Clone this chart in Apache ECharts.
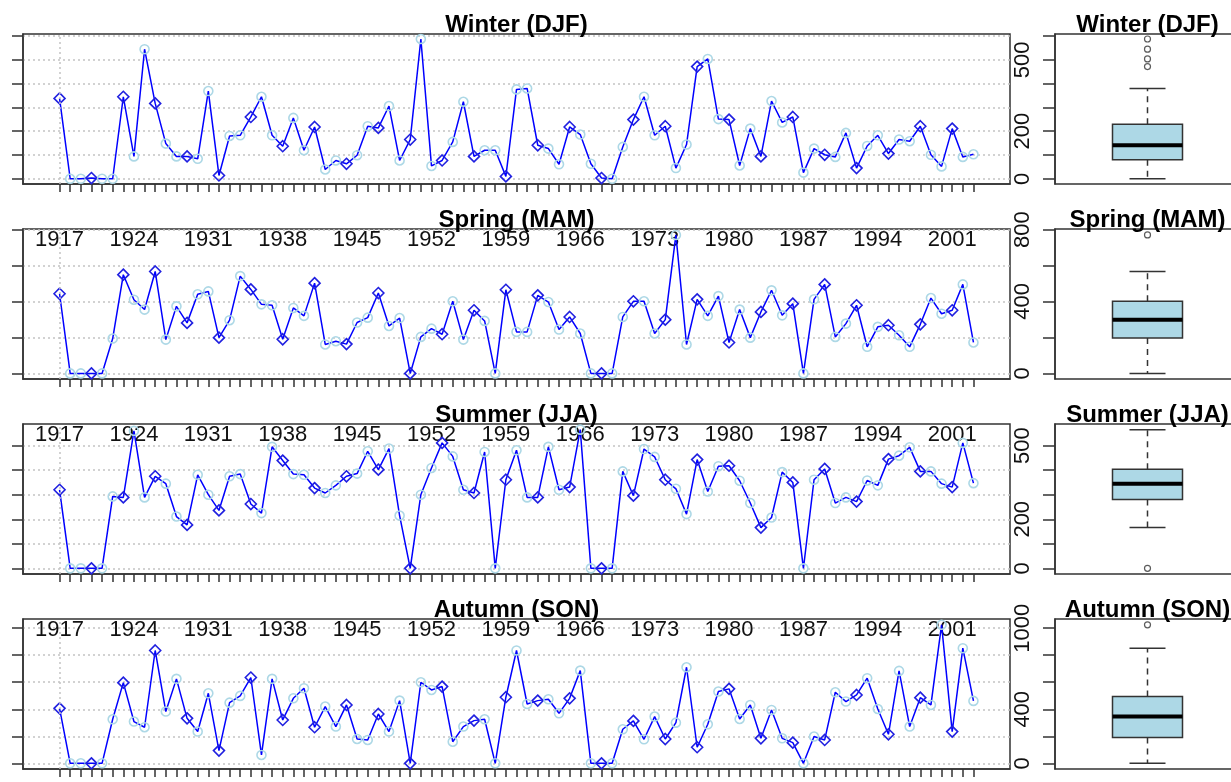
<!DOCTYPE html>
<html><head><meta charset="utf-8">
<script src="https://cdn.jsdelivr.net/npm/echarts@6/dist/echarts.min.js"></script>
<style>html,body{margin:0;padding:0;background:#fff}#c{width:1231px;height:782px}</style>
</head><body><div id="c"></div>
<script>
const years = [1917,1918,1919,1920,1921,1922,1923,1924,1925,1926,1927,1928,1929,1930,1931,1932,1933,1934,1935,1936,1937,1938,1939,1940,1941,1942,1943,1944,1945,1946,1947,1948,1949,1950,1951,1952,1953,1954,1955,1956,1957,1958,1959,1960,1961,1962,1963,1964,1965,1966,1967,1968,1969,1970,1971,1972,1973,1974,1975,1976,1977,1978,1979,1980,1981,1982,1983,1984,1985,1986,1987,1988,1989,1990,1991,1992,1993,1994,1995,1996,1997,1998,1999,2000,2001,2002,2003];
const yearLabels = [1917,1924,1931,1938,1945,1952,1959,1966,1973,1980,1987,1994,2001];

const winter = [338,0,0,3,0,0,345,94,545,317,148,94,94,84,369,14,180,183,260,345,183,137,256,120,218,39,77,63,99,221,214,306,77,165,588,54,77,155,324,94,120,120,10,376,380,141,127,61,218,186,63,3,0,134,249,345,183,221,45,144,472,504,251,249,56,211,94,327,237,260,26,127,101,92,193,45,138,183,106,165,158,221,101,52,211,92,103];
const spring = [443,0,0,0,0,194,549,410,355,567,188,373,281,440,456,199,296,541,467,384,379,190,364,320,502,161,179,163,283,310,447,264,308,0,203,249,218,401,188,351,292,0,465,231,231,434,397,244,314,222,0,0,0,314,401,401,222,299,770,161,412,320,430,172,355,199,342,462,323,388,0,412,495,203,277,379,148,259,268,212,148,273,419,332,351,495,172];
const summer = [320,0,0,0,0,293,289,560,289,375,345,211,177,381,300,236,375,384,262,225,495,439,384,381,327,307,338,375,386,477,402,488,215,0,300,409,511,456,320,307,474,0,361,481,289,289,495,320,331,565,0,0,0,395,296,486,454,361,324,221,443,313,416,418,357,266,166,207,392,350,0,361,405,266,289,272,358,338,445,459,493,395,395,345,331,511,347];
const autumn = [407,0,0,0,0,326,597,309,267,835,383,625,333,235,518,94,449,499,635,62,625,321,481,556,267,420,272,432,180,173,365,235,464,0,600,543,568,160,272,316,326,0,489,835,439,464,474,370,481,686,0,0,0,252,314,178,346,180,301,711,119,289,531,551,328,432,185,395,185,153,0,198,173,526,457,506,630,402,215,684,272,486,432,1025,235,852,462];

const titles = ['Winter (DJF)','Spring (MAM)','Summer (JJA)','Autumn (SON)'];
const winterTicks = [0,100,200,300,400,500,600], winterLabels = [0,200,500];
const springTicks = [0,200,400,600,800], springLabels = [0,400,800];
const summerTicks = [0,100,200,300,400,500], summerLabels = [0,200,500];
const autumnTicks = [0,200,400,600,800,1000], autumnLabels = [0,400,1000];

const FONT = '"Liberation Sans", Arial, Helvetica, sans-serif';
const seasons = [
  {title:titles[0], data:winter, ticks:winterTicks, labels:winterLabels, min:-22, max:609},
  {title:titles[1], data:spring, ticks:springTicks, labels:springLabels, min:-31, max:803},
  {title:titles[2], data:summer, ticks:summerTicks, labels:summerLabels, min:-23, max:588},
  {title:titles[3], data:autumn, ticks:autumnTicks, labels:autumnLabels, min:-42, max:1068}
];

function fivenum(a){
  const x = a.slice().sort((p,q)=>p-q), n = x.length;
  const n4 = Math.floor((n+3)/2)/2;
  const d = [1, n4, (n+1)/2, n+1-n4, n];
  return d.map(v => 0.5*(x[Math.floor(v)-1] + x[Math.ceil(v)-1]));
}
function boxStats(a){
  const f = fivenum(a), iqr = f[3]-f[1];
  const lo = f[1]-1.5*iqr, hi = f[3]+1.5*iqr;
  const inside = a.filter(v => v>=lo && v<=hi);
  const out = Array.from(new Set(a.filter(v => v<lo || v>hi)));
  return {stats:[Math.min(...inside), f[1], f[2], f[3], Math.max(...inside)], out};
}

const AX = '#333';
const plain = v => String(v);
const grids=[], xAxes=[], yAxes=[], series=[], graphics=[];
const topPx = [34,229,424,619], H = 150;
seasons.forEach((s,k)=>{
  const top = topPx[k], gL = 2*k, gB = 2*k+1;
  grids.push({left:23, top, width:987, height:H, show:true, borderColor:AX, borderWidth:1.5, backgroundColor:'transparent', outerBoundsMode:'none', containLabel:false});
  grids.push({left:1055, top, width:185, height:H, show:true, borderColor:AX, borderWidth:1.5, backgroundColor:'transparent', outerBoundsMode:'none', containLabel:false});
  xAxes.push({type:'value', gridIndex:gL, min:1913.56, max:2006.44,
    axisLine:{show:true, onZero:false, lineStyle:{color:AX, width:1.5}},
    axisTick:{show:true, customValues:years, length:8, lineStyle:{color:AX, width:1.5}},
    axisLabel:{show:true, customValues:yearLabels, formatter:plain, margin:45, fontSize:22, fontFamily:FONT, color:'#111'},
    splitLine:{show:false}});
  xAxes.push({type:'value', gridIndex:gB, min:0, max:1, show:false});
  yAxes.push({type:'value', gridIndex:gL, min:s.min, max:s.max,
    axisLine:{show:true, onZero:false, lineStyle:{color:AX, width:1.5}},
    axisTick:{show:true, customValues:s.ticks, length:11, lineStyle:{color:AX, width:1.5}},
    axisLabel:{show:false},
    splitLine:{show:true, lineStyle:{type:[2,3], color:'#c4c4c4', width:1.5}}});
  yAxes.push({type:'value', gridIndex:gB, min:s.min, max:s.max,
    axisLine:{show:true, onZero:false, lineStyle:{color:AX, width:1.5}},
    axisTick:{show:true, customValues:s.ticks, length:12, lineStyle:{color:AX, width:1.5}},
    axisLabel:{show:true, customValues:s.labels, formatter:plain, rotate:90, margin:21, fontSize:22, fontFamily:FONT, color:'#111'},
    splitLine:{show:false}});

  series.push({type:'line', xAxisIndex:gL, yAxisIndex:gL, animation:false, showAllSymbol:true,
    lineStyle:{color:'#0000ff', width:1.5},
    data: s.data.map((v,i)=>({value:[years[i], v],
      symbol: i%3===0 ? 'diamond' : 'circle',
      symbolSize: i%3===0 ? 11 : 9,
      itemStyle:{color:'transparent', borderColor: i%3===0 ? '#2020e0' : '#add8e6', borderWidth:1.6}})),
    markLine:{silent:true, symbol:'none', animation:false, label:{show:false},
      lineStyle:{color:'#c4c4c4', type:[2,3], width:1.5}, data:[{xAxis:years[0]}]},
    z:3});

  const bs = boxStats(s.data);
  series.push({type:'custom', xAxisIndex:gB, yAxisIndex:gB, animation:false,
    data:[[0.5].concat(bs.stats)],
    renderItem:(params, api)=>{
      const x = api.coord([api.value(0), 0])[0];
      const y = i => api.coord([0.5, api.value(i)])[1];
      const yLo=y(1), yQ1=y(2), yMed=y(3), yQ3=y(4), yHi=y(5);
      const bw=70, cw=36, st={stroke:AX, lineWidth:1.5};
      return {type:'group', children:[
        {type:'line', shape:{x1:x,y1:yQ3,x2:x,y2:yHi}, style:{stroke:AX, lineWidth:1.5, lineDash:[6,5]}},
        {type:'line', shape:{x1:x,y1:yQ1,x2:x,y2:yLo}, style:{stroke:AX, lineWidth:1.5, lineDash:[6,5]}},
        {type:'line', shape:{x1:x-cw/2,y1:yHi,x2:x+cw/2,y2:yHi}, style:st},
        {type:'line', shape:{x1:x-cw/2,y1:yLo,x2:x+cw/2,y2:yLo}, style:st},
        {type:'rect', shape:{x:x-bw/2, y:yQ3, width:bw, height:yQ1-yQ3}, style:{fill:'#add8e6', stroke:AX, lineWidth:1.5}},
        {type:'line', shape:{x1:x-bw/2,y1:yMed,x2:x+bw/2,y2:yMed}, style:{stroke:'#000', lineWidth:4}}
      ]};
    }});
  series.push({type:'scatter', xAxisIndex:gB, yAxisIndex:gB, animation:false,
    data: bs.out.map(v=>[0.5, v]), symbol:'circle', symbolSize:6,
    itemStyle:{color:'transparent', borderColor:AX, borderWidth:1.2}});

  const ty = top - 9;
  graphics.push({type:'text', x:516.5, y:ty, z:100, style:{text:s.title, font:'bold 24px '+FONT, fill:'#000', align:'center', verticalAlign:'middle'}});
  graphics.push({type:'text', x:1147.5, y:ty, z:100, style:{text:s.title, font:'bold 24px '+FONT, fill:'#000', align:'center', verticalAlign:'middle'}});
});

const chart = echarts.init(document.getElementById('c'), null, {renderer:'canvas'});
chart.setOption({animation:false, backgroundColor:'#fff', grid:grids, xAxis:xAxes, yAxis:yAxes, series, graphic:graphics});
</script></body></html>
